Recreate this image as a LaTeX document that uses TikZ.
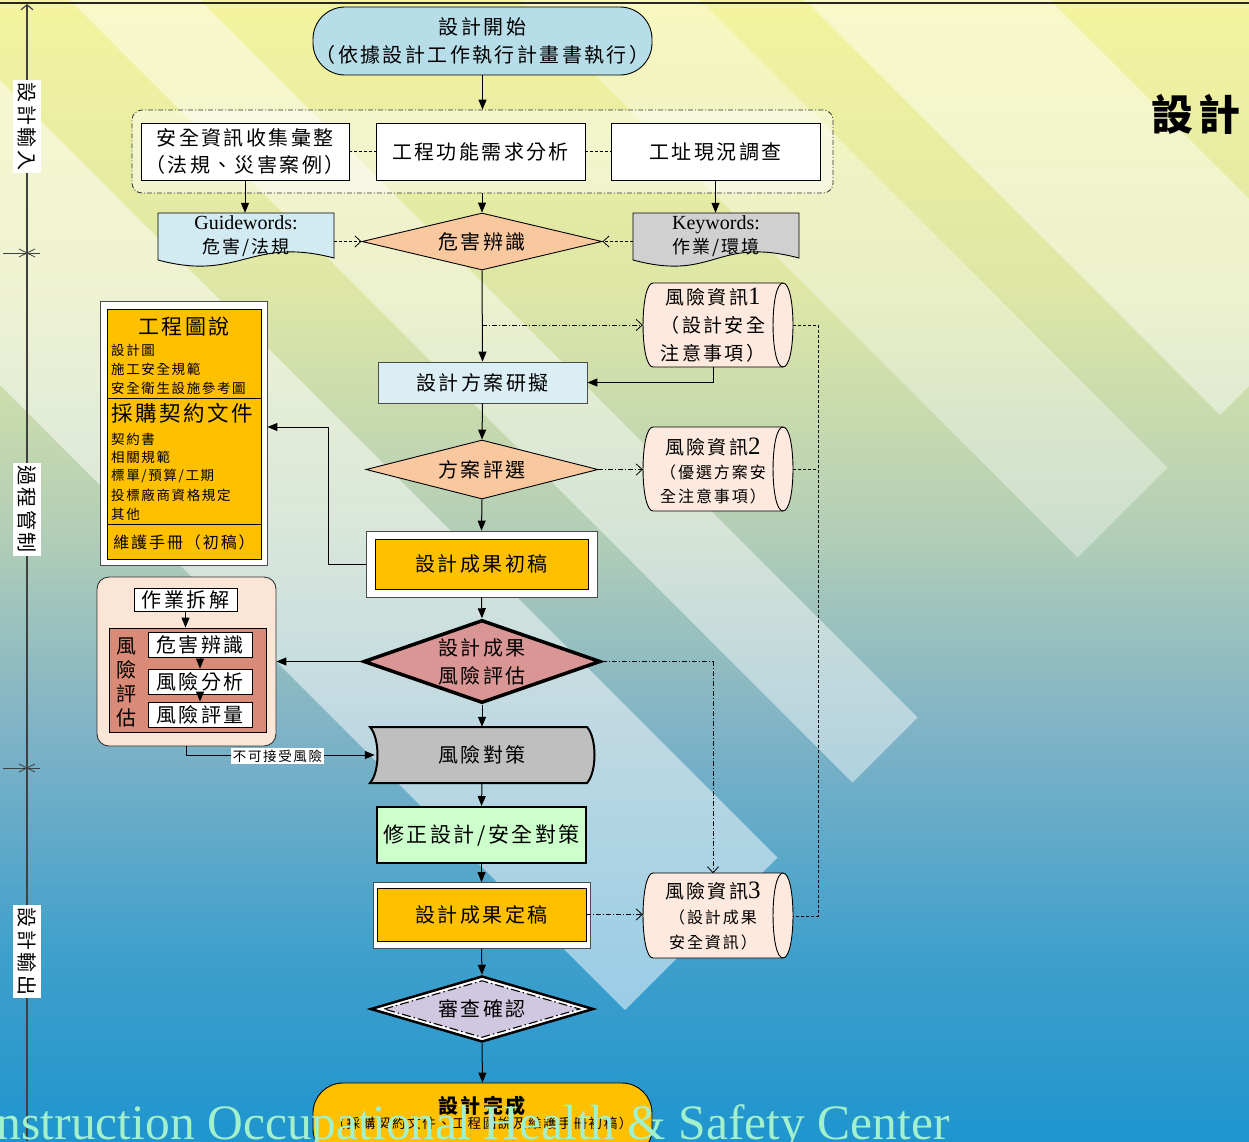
\documentclass[tikz,border=0pt]{standalone}
\usepackage{fontspec}
\setmainfont{Noto Sans CJK TC}[LetterSpace=12]
\newfontfamily\latinserif{Liberation Serif}
\usetikzlibrary{shapes.geometric,arrows.meta,calc}

\definecolor{bgA}{HTML}{1F95CE}
\definecolor{bgB}{HTML}{3E9FCC}
\definecolor{bgC}{HTML}{7FB3C6}
\definecolor{bgD}{HTML}{B4CFB6}
\definecolor{bgE}{HTML}{DDE6A6}
\definecolor{bgF}{HTML}{F4F49E}
\definecolor{startblue}{HTML}{B7DEE8}
\definecolor{guideblue}{HTML}{D2EAF1}
\definecolor{keygray}{HTML}{D0D0D0}
\definecolor{peach}{HTML}{FAC89E}
\definecolor{riskpeach}{HTML}{FDE9DD}
\definecolor{planblue}{HTML}{DBEEF4}
\definecolor{amber}{HTML}{FFC000}
\definecolor{evalpink}{HTML}{DA9694}
\definecolor{grppeach}{HTML}{FBE5D6}
\definecolor{salmon}{HTML}{D98B77}
\definecolor{countergray}{HTML}{BFBFBF}
\definecolor{fixgreen}{HTML}{CCFFCC}
\definecolor{lavender}{HTML}{D0C8E0}
\definecolor{axisgray}{HTML}{404040}
\definecolor{wmgreen}{HTML}{A2F0CC}

\pgfdeclareverticalshading{bgshade}{100bp}{color(0bp)=(bgA); color(25bp)=(bgA); color(33bp)=(bgB); color(43bp)=(bgC); color(52bp)=(bgD); color(62bp)=(bgE); color(75bp)=(bgF); color(100bp)=(bgF)}

\newcommand\fsz[2]{\fontsize{#1}{#2}\selectfont}
% light diagonal band between the lines x-y=#1 and x-y=#2, cut square at x+y=1635
\newcommand\diagband[3]{%
  \fill[white,opacity=#3] ({(#1+1635)/2},{(1635-#1)/2}) -- ({(#1-1800)/2},{(-1800-#1)/2})
    -- ({(#2-1800)/2},{(-1800-#2)/2}) -- ({(#2+1635)/2},{(1635-#2)/2}) -- cycle;}
% horizontal drum (stored data) outline between heights #1 and #2
\newcommand\drum[2]{%
  \draw[cylbox] (653,#1) -- (783,#1) .. controls (796.3,#1) and (796.3,#2) .. (783,#2)
    -- (653,#2) .. controls (639.7,#2) and (639.7,#1) .. (653,#1) -- cycle;
  \draw[line width=0.9pt] (783,#1) .. controls (769.7,#1) and (769.7,#2) .. (783,#2);}
% document outline with wavy bottom, x from #1 to #2
\newcommand\docshape[3]{%
  \draw[line width=0.9pt, fill=#3] (#1,213) -- (#2,213) -- (#2,258)
    .. controls ({#2-84},236) and ({#1+82},282) .. (#1,260) -- cycle;}

\begin{document}
\begin{tikzpicture}[x=1pt,y=-1pt,
  every node/.style={inner sep=0pt, align=center},
  arr/.style={line width=1pt, -{Triangle[length=10pt,width=8pt]}},
  oarr/.style={-{Straight Barb[length=6pt,width=11pt]}},
  dashdot/.style={line width=0.8pt, dash pattern=on 5pt off 2pt on 1pt off 2pt},
  shortdash/.style={line width=0.8pt, dash pattern=on 3pt off 2pt},
  wbox/.style={draw=black, line width=0.9pt, fill=white},
  cylbox/.style={fill=riskpeach, draw=black, line width=0.9pt},
  dia/.style={shape=diamond, draw=black, line width=0.9pt, fill=peach},
  mainfont/.style={font=\fsz{20}{28}},
  smallfont/.style={font=\fsz{13.5}{18}},
]
\useasboundingbox (0,0) rectangle (1249,1141);
\clip (0,0) rectangle (1249,1141);

% ---------- background ----------
\shade[shading=bgshade] (0,0) rectangle (1249,1141);
\diagband{-385}{-80}{0.5}
\diagband{70}{200}{0.45}
\diagband{520}{700}{0.35}
\diagband{805}{1050}{0.45}

\draw[line width=2.5pt, black!85] (0,3) -- (1249,3);

% ---------- left phase axis ----------
\draw[line width=1.2pt, axisgray, -{Straight Barb[length=5pt,width=12pt]}] (27,1141) -- (27,4);
\foreach \yy in {253,768} {
  \draw[line width=0.8pt, axisgray] (3,\yy) -- (40,\yy);
  \draw[line width=0.8pt, axisgray] (19,\yy-4) -- (35,\yy+4) (19,\yy+4) -- (35,\yy-4);
}
\node[fill=white, rotate=-90, minimum width=93pt, minimum height=28pt, font=\fsz{20}{20}] (phasein) at (27,126.5) {設計輸入};
\node[fill=white, rotate=-90, minimum width=93pt, minimum height=28pt, font=\fsz{20}{20}] (phasectl) at (27,509) {過程管制};
\node[fill=white, rotate=-90, minimum width=93pt, minimum height=28pt, font=\fsz{20}{20}] (phaseout) at (27,951.5) {設計輸出};

% ---------- title ----------
\node[font=\fsz{42}{48}\bfseries] (ttl) at (1196,114) {設計};

% ---------- input stage ----------
\node[draw=black, line width=0.9pt, fill=startblue, rounded corners=32pt,
      minimum width=339pt, minimum height=68pt, mainfont] (start) at (482.5,41)
      {設計開始\\（依據設計工作執行計畫書執行）};
\node[draw=black!80, dashdot, fill=white, fill opacity=0.45, rounded corners=10pt,
      minimum width=701pt, minimum height=83pt] (grp) at (482.5,151.5) {};
\node[wbox, minimum width=208pt, minimum height=57pt, font=\fsz{20}{27}] (b1) at (245,151.5)
      {安全資訊收集彙整\\（法規、災害案例）};
\node[wbox, minimum width=209pt, minimum height=57pt, mainfont] (b2) at (480.5,151.5) {工程功能需求分析};
\node[wbox, minimum width=209pt, minimum height=57pt, mainfont] (b3) at (715.5,151.5) {工址現況調查};
\draw[shortdash] (b1.east) -- (b2.west);
\draw[shortdash] (b2.east) -- (b3.west);

\docshape{158}{334}{guideblue}
\node[minimum width=176pt, minimum height=46pt, font=\fsz{18}{24}] (guide) at (246,236)
      {{\latinserif\fsz{20}{24}Guidewords:}\\危害/法規};
\docshape{633}{799}{keygray}
\node[minimum width=166pt, minimum height=46pt, font=\fsz{18}{24}] (keys) at (716,236)
      {{\latinserif\fsz{20}{24}Keywords:}\\作業/環境};

\node[dia, aspect=4.2, minimum width=240pt, minimum height=57pt, mainfont] (hz) at (482,241.5) {危害辨識};

\draw[arr] (start.south) -- (grp.north);
\draw[arr] (b1.south) -- (b1.south |- guide.north);
\draw[arr] (b3.south) -- (b3.south |- keys.north);
\draw[arr] (hz.north |- grp.south) -- (hz.north);
\draw[shortdash, oarr] (guide.east |- hz.west) -- (hz.west);
\draw[shortdash, oarr] (keys.west |- hz.east) -- (hz.east);

% ---------- design process ----------
\node[draw=black!70, line width=0.8pt, fill=planblue, minimum width=209pt, minimum height=41pt, mainfont]
      (plan) at (482.5,382.5) {設計方案研擬};

\drum{283}{367}
\node[minimum width=140pt, minimum height=84pt, font=\fsz{19}{28}] (r1) at (713,325)
      {風險資訊{\latinserif\fsz{25}{28}1}\\（設計安全\\注意事項）};

\node[dia, aspect=3.9, minimum width=232pt, minimum height=59pt, mainfont] (sel) at (482,469.5) {方案評選};

\drum{427}{511}
\node[minimum width=140pt, minimum height=84pt, font=\fsz{16}{24}] (r2) at (713,471)
      {{\fsz{19}{24}風險資訊{\latinserif\fsz{25}{24}2}}\\（優選方案安\\全注意事項）};

\node[draw=black!70, line width=0.8pt, fill=white, minimum width=231pt, minimum height=66pt] (draftO) at (481.5,564) {};
\node[draw=black, line width=0.9pt, fill=amber, minimum width=213pt, minimum height=50pt, mainfont]
      (draft) at (481.5,564) {設計成果初稿};

% deliverables list
\node[draw=black!70, line width=0.8pt, fill=white, minimum width=167pt, minimum height=264pt] (docsO) at (183.5,433) {};
\node[draw=black, line width=0.9pt, fill=amber, minimum width=154pt, minimum height=250pt] (docs) at (184,434) {};
\draw[line width=0.9pt] (docs.west |- 0,398) -- (docs.east |- 0,398);
\draw[line width=0.9pt] (docs.west |- 0,524) -- (docs.east |- 0,524);
\node[font=\fsz{21}{24}] (dwg) at (184,327) {工程圖說};
\node[anchor=west, font=\fsz{13.5}{18}] (dwg1) at (111,350) {設計圖};
\node[anchor=west, font=\fsz{13.5}{18}] (dwg2) at (111,369) {施工安全規範};
\node[anchor=west, font=\fsz{13.5}{18}] (dwg3) at (111,388) {安全衛生設施參考圖};
\node[font=\fsz{21.5}{24}] (ctr) at (182,413) {採購契約文件};
\node[anchor=west, font=\fsz{13.5}{18}] (ctr1) at (111,439) {契約書};
\node[anchor=west, font=\fsz{13.5}{18}] (ctr2) at (111,457) {相關規範};
\node[anchor=west, font=\fsz{13.5}{18}] (ctr3) at (111,476) {標單/預算/工期};
\node[anchor=west, font=\fsz{13.5}{18}] (ctr4) at (111,495) {投標廠商資格規定};
\node[anchor=west, font=\fsz{13.5}{18}] (ctr5) at (111,514) {其他};
\node[font=\fsz{16}{20}] (manual) at (184,542) {維護手冊（初稿）};

\draw[arr] (hz.south) -- (plan.north);
\draw[dashdot, oarr] (hz.south |- r1.west) -- (r1.west);
\draw[arr] (r1.south) |- (plan.east);
\draw[arr] (plan.south) -- (sel.north);
\draw[dashdot, oarr] (sel.east) -- (r2.west |- sel.east);
\draw[arr] (sel.south) -- (draftO.north);
\coordinate (jdocs) at (328,427);
\draw[arr] (draftO.west) -| (jdocs) -- (jdocs -| docsO.east);

% ---------- risk assessment ----------
\node[dia, line width=3.5pt, fill=evalpink, aspect=2.86, minimum width=237pt, minimum height=83pt, mainfont]
      (eval) at (482,661.5) {設計成果\\風險評估};
\draw[arr] (draftO.south) -- (eval.north);

\node[draw=black!80, line width=0.9pt, fill=grppeach, rounded corners=12pt,
      minimum width=179pt, minimum height=169pt] (riskgrp) at (186.5,661.5) {};
\node[wbox, minimum width=103pt, minimum height=23pt, mainfont] (op) at (185.5,599.5) {作業拆解};
\node[draw=black, line width=0.9pt, fill=salmon, minimum width=157pt, minimum height=104pt] (ra) at (187.5,680) {};
\node[font=\fsz{20}{24}] (ravert) at (126,682) {風\\險\\評\\估};
\node[wbox, minimum width=104pt, minimum height=25pt, mainfont] (h1) at (200,644.5) {危害辨識};
\node[wbox, minimum width=104pt, minimum height=25pt, mainfont] (h2) at (200,681.5) {風險分析};
\node[wbox, minimum width=104pt, minimum height=25pt, mainfont] (h3) at (200,714.5) {風險評量};
\draw[arr] (op.south) -- (op.south |- ra.north);
\draw[arr] (h1.south) -- (h2.north);
\draw[arr] (h2.south) -- (h3.north);
\draw[arr] (eval.west) -- (riskgrp.east |- eval.west);

% counter-measure
\draw[line width=2pt, fill=countergray] (370,727) -- (587,727) .. controls (597,738) and (597,772) .. (587,783)
   -- (370,783) .. controls (380,772) and (380,738) .. (370,727) -- cycle;
\node[minimum width=214pt, minimum height=56pt, mainfont] (counter) at (482,755) {風險對策};
\draw[arr] (eval.south) -- (counter.north);
\draw[arr] (riskgrp.south) |- (counter.west);
\node[fill=white, inner sep=1.5pt, smallfont] (unacc) at (277.5,756) {不可接受風險};

\node[draw=black, line width=2pt, fill=fixgreen, minimum width=209pt, minimum height=56pt, font=\fsz{21}{28}]
      (fix) at (481.5,835) {修正設計/安全對策};
\draw[arr] (counter.south) -- (fix.north);

% ---------- output stage ----------
\node[draw=black!70, line width=0.8pt, fill=white, minimum width=217pt, minimum height=66pt] (finalO) at (481.5,915.5) {};
\node[draw=black, line width=0.9pt, fill=amber, minimum width=209pt, minimum height=53pt, mainfont]
      (final) at (481.5,914.5) {設計成果定稿};
\draw[arr] (fix.south) -- (finalO.north);

\drum{873}{958}
\node[minimum width=140pt, minimum height=85pt, font=\fsz{16}{25}] (r3) at (713,916)
      {{\fsz{19}{25}風險資訊{\latinserif\fsz{25}{25}3}}\\（設計成果\\安全資訊）};
\draw[dashdot, oarr] (final.east) -- (r3.west |- final.east);
\draw[dashdot, oarr] (eval.east) -| (r3.north);

% shared link between the three risk records
\coordinate (bus) at (818,0);
\draw[shortdash] ([xshift=10pt]r1.east) -- (bus |- r1.east) -- (bus |- r3.east) -- ([xshift=10pt]r3.east);
\draw[shortdash] ([xshift=10pt]r2.east |- sel.east) -- (bus |- sel.east);

\node[shape=diamond, draw=black, line width=2.5pt, fill=white, aspect=3.4,
      minimum width=223pt, minimum height=66pt] (review) at (482,1009) {};
\draw[fill=lavender, line width=1.1pt, dash pattern=on 9pt off 3pt on 1.5pt off 3pt]
  ($(review.west)+(15,0)$) -- ($(review.north)+(0,6)$) -- ($(review.east)+(-15,0)$) -- ($(review.south)+(0,-6)$) -- cycle;
\node[mainfont] (reviewtxt) at (review.center) {審查確認};
\draw[arr] (finalO.south) -- (review.north);

\node[draw=black, line width=0.9pt, fill=amber, rounded corners=30pt,
      minimum width=339pt, minimum height=76pt] (done) at (482.5,1121) {};
\node (donetxt) at (482,1113) {{\fsz{20}{22}\bfseries 設計完成}\\{\fsz{13.5}{22}（採購契約文件、工程圖說及維護手冊初稿）}};
\draw[arr] (review.south) -- (done.north);

% ---------- footer mark ----------
\node[anchor=base west, text=wmgreen, font=\latinserif\fsz{49.5}{50}] (wm) at (-61,1139)
      {Construction Occupational Health \& Safety Center};
\end{tikzpicture}
\end{document}
